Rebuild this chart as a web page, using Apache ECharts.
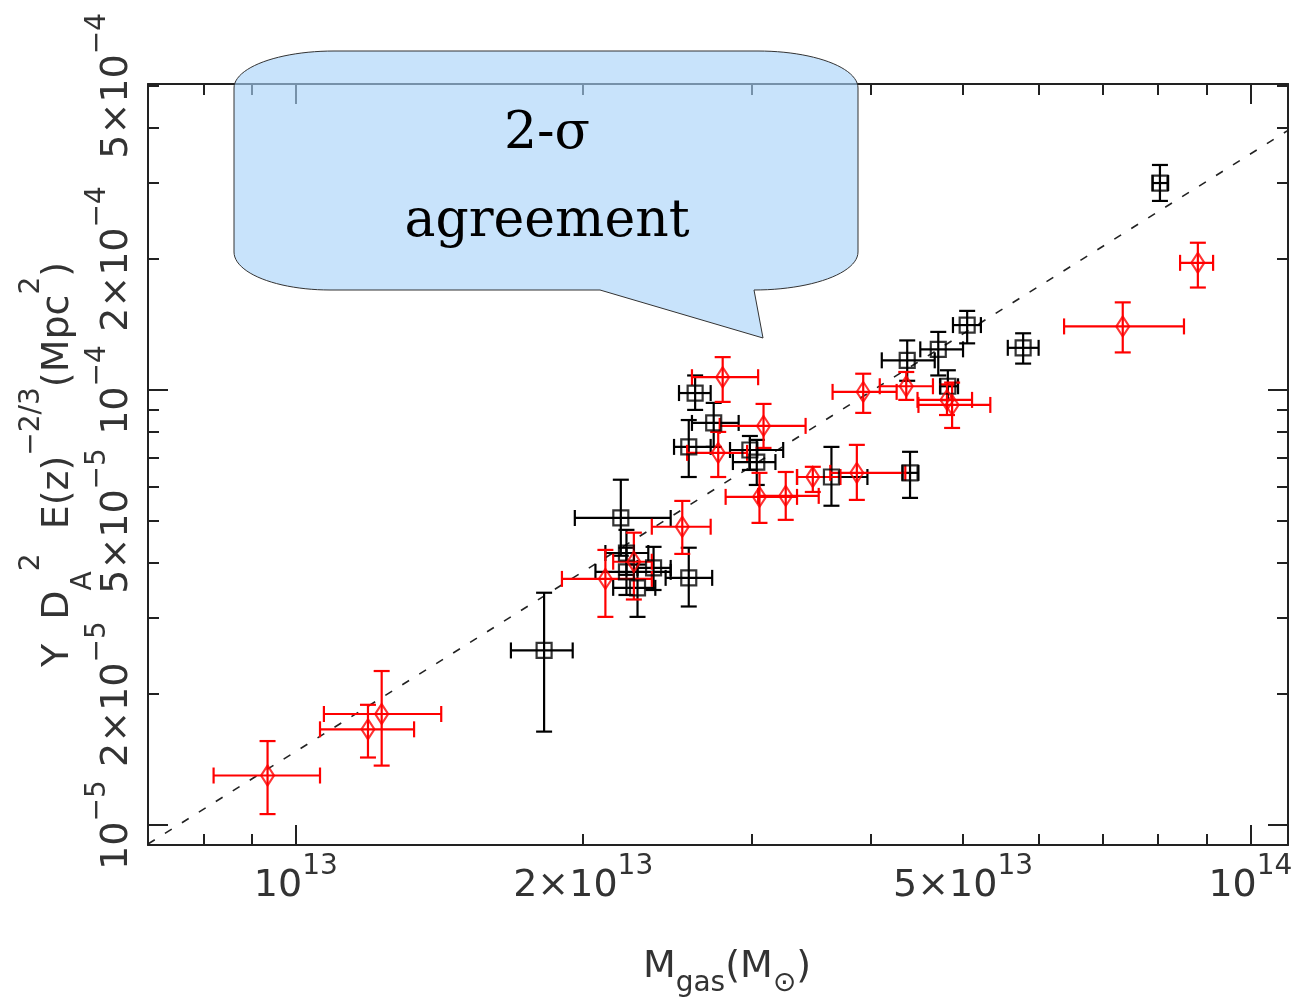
<!DOCTYPE html>
<html><head><meta charset="utf-8">
<script src="https://cdn.jsdelivr.net/npm/echarts@6/dist/echarts.min.js"></script>
<style>html,body{margin:0;padding:0;background:#fff}#c{width:1306px;height:998px}</style>
</head><body><div id="c"></div>
<script>
// ---------------- data ----------------
// black squares
const blackX   = [8.04e13, 5.05e13, 4.71e13, 4.37e13, 5.78e13, 4.82e13, 2.62e13, 2.74e13, 2.58e13, 2.99e13, 3.04e13, 3.64e13, 4.40e13, 2.19e13, 2.22e13, 2.22e13, 2.37e13, 2.58e13, 2.28e13, 1.82e13];
const blackXLo = [7.90e13, 4.88e13, 4.51e13, 4.11e13, 5.57e13, 4.73e13, 2.52e13, 2.60e13, 2.49e13, 2.85e13, 2.87e13, 3.35e13, 4.32e13, 1.96e13, 2.11e13, 2.06e13, 2.28e13, 2.44e13, 2.15e13, 1.68e13];
const blackXHi = [8.20e13, 5.22e13, 5.00e13, 4.67e13, 6.00e13, 4.94e13, 2.72e13, 2.91e13, 2.72e13, 3.24e13, 3.18e13, 3.97e13, 4.49e13, 2.47e13, 2.34e13, 2.47e13, 2.47e13, 2.73e13, 2.38e13, 1.95e13];
const blackY   = [2.99e-4, 1.41e-4, 1.24e-4, 1.17e-4, 1.25e-4, 1.02e-4, 9.84e-5, 8.40e-5, 7.40e-5, 7.28e-5, 6.83e-5, 6.31e-5, 6.45e-5, 5.08e-5, 4.22e-5, 3.82e-5, 3.90e-5, 3.70e-5, 3.51e-5, 2.52e-5];
const blackYLo = [2.72e-4, 1.28e-4, 1.08e-4, 1.05e-4, 1.15e-4, 9.48e-5, 9.00e-5, 7.40e-5, 6.31e-5, 6.55e-5, 6.05e-5, 5.42e-5, 5.65e-5, 4.16e-5, 3.76e-5, 3.38e-5, 3.47e-5, 3.18e-5, 3.01e-5, 1.64e-5];
const blackYHi = [3.29e-4, 1.52e-4, 1.36e-4, 1.30e-4, 1.35e-4, 1.11e-4, 1.08e-4, 9.34e-5, 8.53e-5, 7.84e-5, 7.68e-5, 7.40e-5, 7.21e-5, 6.22e-5, 4.77e-5, 4.34e-5, 4.36e-5, 4.34e-5, 3.97e-5, 3.42e-5];
// red diamonds
const redX   = [8.81e13, 7.35e13, 4.36e13, 3.93e13, 4.81e13, 4.87e13, 2.80e13, 3.09e13, 2.77e13, 3.87e13, 3.48e13, 3.26e13, 3.06e13, 2.54e13, 2.26e13, 2.11e13, 1.23e13, 1.19e13, 9.34e12];
const redXLo = [8.44e13, 6.38e13, 4.09e13, 3.65e13, 4.48e13, 4.49e13, 2.60e13, 2.78e13, 2.57e13, 3.63e13, 3.35e13, 3.05e13, 2.82e13, 2.36e13, 2.15e13, 1.90e13, 1.07e13, 1.06e13, 8.20e12];
const redXHi = [9.14e13, 8.52e13, 4.65e13, 4.26e13, 5.11e13, 5.34e13, 3.05e13, 3.42e13, 2.97e13, 4.35e13, 3.72e13, 3.53e13, 3.35e13, 2.72e13, 2.36e13, 2.36e13, 1.42e13, 1.33e13, 1.06e13];
const redY   = [1.96e-4, 1.40e-4, 1.02e-4, 9.90e-5, 9.49e-5, 9.24e-5, 1.07e-4, 8.27e-5, 7.17e-5, 6.45e-5, 6.31e-5, 5.71e-5, 5.68e-5, 4.85e-5, 4.03e-5, 3.68e-5, 1.80e-5, 1.66e-5, 1.30e-5];
const redYLo = [1.72e-4, 1.22e-4, 9.49e-5, 8.86e-5, 8.76e-5, 8.18e-5, 9.39e-5, 7.36e-5, 6.31e-5, 5.59e-5, 5.83e-5, 5.03e-5, 4.95e-5, 4.20e-5, 3.30e-5, 3.01e-5, 1.37e-5, 1.43e-5, 1.06e-5];
const redYHi = [2.18e-4, 1.59e-4, 1.10e-4, 1.09e-4, 1.03e-4, 1.04e-4, 1.19e-4, 9.29e-5, 8.01e-5, 7.48e-5, 6.66e-5, 6.48e-5, 6.45e-5, 5.56e-5, 4.70e-5, 4.29e-5, 2.26e-5, 1.89e-5, 1.56e-5];
// dashed relation line (end points)
const lineX = [7.0e12, 1.095e14];
const lineY = [9.05e-6, 3.95e-4];
// axes
const X_MIN = 7.0e12, X_MAX = 1.095e14;
const Y_MIN = 9.0e-6, Y_MAX = 5.05e-4;
const xMajorTicks = [1e13, 1e14];
const xMinorTicks = [8e12, 9e12, 2e13, 3e13, 4e13, 5e13, 6e13, 7e13, 8e13, 9e13];
const yMajorTicks = [1e-5, 1e-4];
const yMinorTicks = [2e-5, 3e-5, 4e-5, 5e-5, 6e-5, 7e-5, 8e-5, 9e-5, 2e-4, 3e-4, 4e-4, 5e-4];
const xLabelValues = [1e13, 2e13, 5e13, 1e14];
const xLabelTexts  = [['10', '13'], ['2×10', '13'], ['5×10', '13'], ['10', '14']];
const yLabelValues = [1e-5, 2e-5, 5e-5, 1e-4, 2e-4, 5e-4];
const yLabelTexts  = [['10', '−5'], ['2×10', '−5'], ['5×10', '−5'], ['10', '−4'], ['2×10', '−4'], ['5×10', '−4']];
const calloutLines = ['2-σ', 'agreement'];

// ---------------- chart ----------------
const FONT = "'DejaVu Sans', sans-serif";
const TXT = '#333';
const AX = '#222';
const richTick = {
  n: {fontFamily: FONT, fontSize: 38, lineHeight: 52, color: TXT, verticalAlign: 'bottom'},
  s: {fontFamily: FONT, fontSize: 28, lineHeight: 28, color: TXT, verticalAlign: 'top'}
};
function fmtFrom(vals, texts) {
  return function (v) {
    let best = 0, bd = Infinity;
    vals.forEach((u, i) => { const d = Math.abs(Math.log10(v / u)); if (d < bd) { bd = d; best = i; } });
    const t = texts[best];
    return '{n|' + t[0] + '}{s|' + t[1] + '}';
  };
}
function mkAxis(isX, position, ticks, len, showLine, extra) {
  const a = {
    type: 'log', logBase: 10, position: position,
    min: isX ? X_MIN : Y_MIN, max: isX ? X_MAX : Y_MAX,
    axisLine: {show: showLine, onZero: false, lineStyle: {color: AX, width: 2}},
    axisTick: {show: true, inside: true, length: len, customValues: ticks, lineStyle: {color: AX, width: 2}},
    axisLabel: {show: false},
    splitLine: {show: false},
    minorTick: {show: false},
    minorSplitLine: {show: false},
    axisPointer: {show: false}
  };
  return Object.assign(a, extra || {});
}

const xAxes = [
  mkAxis(true, 'bottom', xMinorTicks, 11, true, {
    axisLabel: {show: true, customValues: xLabelValues, margin: 8, formatter: fmtFrom(xLabelValues, xLabelTexts), rich: richTick},
    name: '{n|M}{sub|gas}{n|(M}{sub|⊙}{n|)}',
    nameLocation: 'middle', nameGap: 103, nameMoveOverlap: false,
    nameTextStyle: {padding: [0, 0, 0, 18], rich: {
      n: {fontFamily: FONT, fontSize: 38, lineHeight: 50, color: TXT, verticalAlign: 'top'},
      sub: {fontFamily: FONT, fontSize: 28, lineHeight: 28, color: TXT, verticalAlign: 'bottom'}
    }}
  }),
  mkAxis(true, 'bottom', xMajorTicks, 20, false),
  mkAxis(true, 'top', xMinorTicks, 11, true),
  mkAxis(true, 'top', xMajorTicks, 20, false)
];
const yAxes = [
  mkAxis(false, 'left', yMinorTicks, 11, true, {
    axisLabel: {show: true, customValues: yLabelValues, rotate: 90, margin: 12, formatter: fmtFrom(yLabelValues, yLabelTexts), rich: richTick},
    name: '{n|Y  D}{sub|A}{sup|2}{n|  E(z)}{sup|−2/3}{n|(Mpc}{sup|2}{n|)}',
    nameLocation: 'middle', nameGap: 50, nameRotate: 90, nameMoveOverlap: false,
    nameTextStyle: {rich: {
      n: {fontFamily: FONT, fontSize: 38, lineHeight: 80, color: TXT, verticalAlign: 'middle'},
      sup: {fontFamily: FONT, fontSize: 28, lineHeight: 28, color: TXT, verticalAlign: 'top'},
      sub: {fontFamily: FONT, fontSize: 28, lineHeight: 28, color: TXT, verticalAlign: 'bottom'}
    }}
  }),
  mkAxis(false, 'left', yMajorTicks, 20, false),
  mkAxis(false, 'right', yMinorTicks, 11, true),
  mkAxis(false, 'right', yMajorTicks, 20, false)
];

function errRows(x, xl, xh, y, yl, yh) {
  return x.map((v, i) => [v, y[i], xl[i], xh[i], yl[i], yh[i]]);
}
function errRender(color) {
  return function (params, api) {
    const x = api.value(0), y = api.value(1);
    const c = api.coord([x, y]);
    const l = api.coord([api.value(2), y]), r = api.coord([api.value(3), y]);
    const b = api.coord([x, api.value(4)]), t = api.coord([x, api.value(5)]);
    const cap = 8;
    const st = {stroke: color, lineWidth: 2.2, fill: null};
    const L = (x1, y1, x2, y2) => ({type: 'line', shape: {x1, y1, x2, y2}, style: st});
    return {type: 'group', children: [
      L(l[0], c[1], r[0], c[1]),
      L(l[0], c[1] - cap, l[0], c[1] + cap),
      L(r[0], c[1] - cap, r[0], c[1] + cap),
      L(c[0], t[1], c[0], b[1]),
      L(c[0] - cap, t[1], c[0] + cap, t[1]),
      L(c[0] - cap, b[1], c[0] + cap, b[1])
    ]};
  };
}

// callout shape (annotation outline, built from elliptical corners)
function arc(cx, cy, rx, ry, a0, a1, n) {
  const pts = [];
  for (let i = 0; i <= n; i++) { const t = a0 + (a1 - a0) * i / n; pts.push([cx + rx * Math.cos(t), cy + ry * Math.sin(t)]); }
  return pts;
}
const PI = Math.PI;
const bubblePts = [].concat(
  arc(334, 88, 100, 37, PI, 1.5 * PI, 24),
  arc(758, 88, 100, 37, 1.5 * PI, 2 * PI, 24),
  arc(754, 252, 104, 38, 0, 0.5 * PI, 24),
  [[763, 338], [600, 290]],
  arc(330, 252, 96, 38, 0.5 * PI, PI, 24)
);

const chart = echarts.init(document.getElementById('c'), null, {renderer: 'canvas'});
chart.setOption({
  animation: false,
  backgroundColor: '#fff',
  grid: {left: 148, right: 18, top: 84, bottom: 153, containLabel: false, outerBoundsMode: 'none'},
  xAxis: xAxes,
  yAxis: yAxes,
  series: [
    {type: 'line', data: lineX.map((v, i) => [v, lineY[i]]), symbol: 'none', silent: true,
     lineStyle: {color: '#222', width: 1.6, type: [8, 12]}, z: 1},
    {type: 'custom', data: errRows(blackX, blackXLo, blackXHi, blackY, blackYLo, blackYHi),
     renderItem: errRender('#000'), encode: {x: [0, 2, 3], y: [1, 4, 5]}, silent: true, z: 2},
    {type: 'custom', data: errRows(redX, redXLo, redXHi, redY, redYLo, redYHi),
     renderItem: errRender('#ff0000'), encode: {x: [0, 2, 3], y: [1, 4, 5]}, silent: true, z: 3},
    {type: 'scatter', data: blackX.map((v, i) => [v, blackY[i]]), symbol: 'rect', symbolSize: 15,
     itemStyle: {color: 'rgba(0,0,0,0)', borderColor: '#000', borderWidth: 2.2}, z: 4},
    {type: 'scatter', data: redX.map((v, i) => [v, redY[i]]), symbol: 'diamond', symbolSize: [13, 20],
     itemStyle: {color: 'rgba(0,0,0,0)', borderColor: '#ff0000', borderWidth: 2.2}, z: 5}
  ],
  graphic: [
    {type: 'polygon', z: 100, shape: {points: bubblePts},
     style: {fill: 'rgba(168,210,248,0.63)', stroke: '#333', lineWidth: 1}},
    {type: 'text', z: 101, x: 547, y: 134,
     style: {text: calloutLines[0], font: "52px 'DejaVu Serif', serif", fill: '#000', align: 'center', verticalAlign: 'middle', textAlign: 'center', textVerticalAlign: 'middle'}},
    {type: 'text', z: 101, x: 547, y: 222,
     style: {text: calloutLines[1], font: "52px 'DejaVu Serif', serif", fill: '#000', align: 'center', verticalAlign: 'middle', textAlign: 'center', textVerticalAlign: 'middle'}}
  ]
});
</script>
</body></html>
